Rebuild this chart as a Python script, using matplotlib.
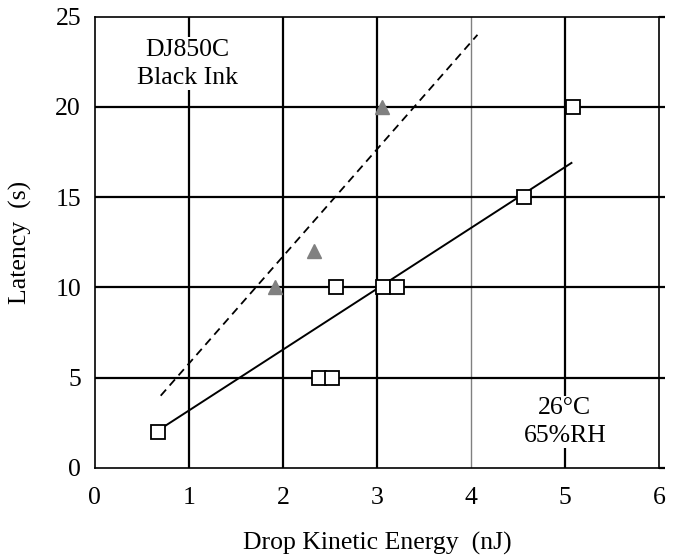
#!/usr/bin/env python3
# Latency vs drop kinetic energy, DJ850C black ink
import matplotlib
matplotlib.use("Agg")
import matplotlib.pyplot as plt

plt.rcParams["font.family"] = ["Liberation Serif", "DejaVu Serif"]

# squares (measured)
sq_energy = [0.67, 2.38, 2.52, 2.57, 3.07, 3.21, 4.56, 5.09]
sq_latency = [2, 5, 5, 10, 10, 10, 15, 20]

# triangles (grey)
tri_energy = [1.92, 2.33, 3.05]
tri_latency = [10, 12, 20]

# fitted lines (end points)
fit_solid_x = [0.68, 5.07]
fit_solid_y = [2.1, 16.9]
fit_dash_x = [0.70, 4.07]
fit_dash_y = [4.0, 24.0]

x_ticks = [0, 1, 2, 3, 4, 5, 6]
y_ticks = [0, 5, 10, 15, 20, 25]

FS = 18.5

fig = plt.figure(figsize=(6.73, 5.59), dpi=100)
ax = fig.add_axes([0.141, 0.163, 0.838, 0.807])

# grid, drawn by hand to get the heavy black look
for xv in x_ticks[1:-1]:
    ax.axvline(xv, color="#808080" if xv == 4 else "black",
               lw=1.0 if xv == 4 else 1.6, zorder=1)
for yv in y_ticks[1:-1]:
    ax.axhline(yv, color="black", lw=1.6, zorder=1)

ax.plot(fit_dash_x, fit_dash_y, color="black", lw=1.3, ls=(0, (4.5, 3)), zorder=2)
ax.plot(fit_solid_x, fit_solid_y, color="black", lw=1.4, zorder=2)

ax.plot(tri_energy, tri_latency, ls="none", marker="^", ms=9.5,
        color="#808080", mec="#808080", zorder=3)
ax.plot(sq_energy, sq_latency, ls="none", marker="s", ms=10.5,
        mfc="white", mec="black", mew=1.3, zorder=4)

ax.text(0.98, 22.4, "DJ850C\nBlack Ink", ha="center", va="center",
        fontsize=FS, linespacing=1.35,
        bbox=dict(fc="white", ec="none", pad=1), zorder=5)
ax.text(5.0, 2.55, "26°C\n65%RH", ha="center", va="center",
        fontsize=FS, linespacing=1.35,
        bbox=dict(fc="white", ec="none", pad=1), zorder=5)

ax.set_xlim(0, 6)
ax.set_ylim(0, 25)
ax.set_xticks(x_ticks)
ax.set_yticks(y_ticks)
ax.tick_params(axis="x", length=0, labelsize=FS, pad=14)
# short stubs of the horizontal grid poking out on the right
ax.tick_params(axis="y", which="both", right=True, left=False,
               direction="out", length=4, width=1.6, labelsize=FS, pad=6)
for s in ax.spines.values():
    s.set_color("black")
    s.set_linewidth(1.2)

ax.set_xlabel("Drop Kinetic Energy  (nJ)", fontsize=FS, labelpad=16)
ax.set_ylabel("Latency  (s)", fontsize=FS, labelpad=17)

fig.savefig("out.png", dpi=100)
